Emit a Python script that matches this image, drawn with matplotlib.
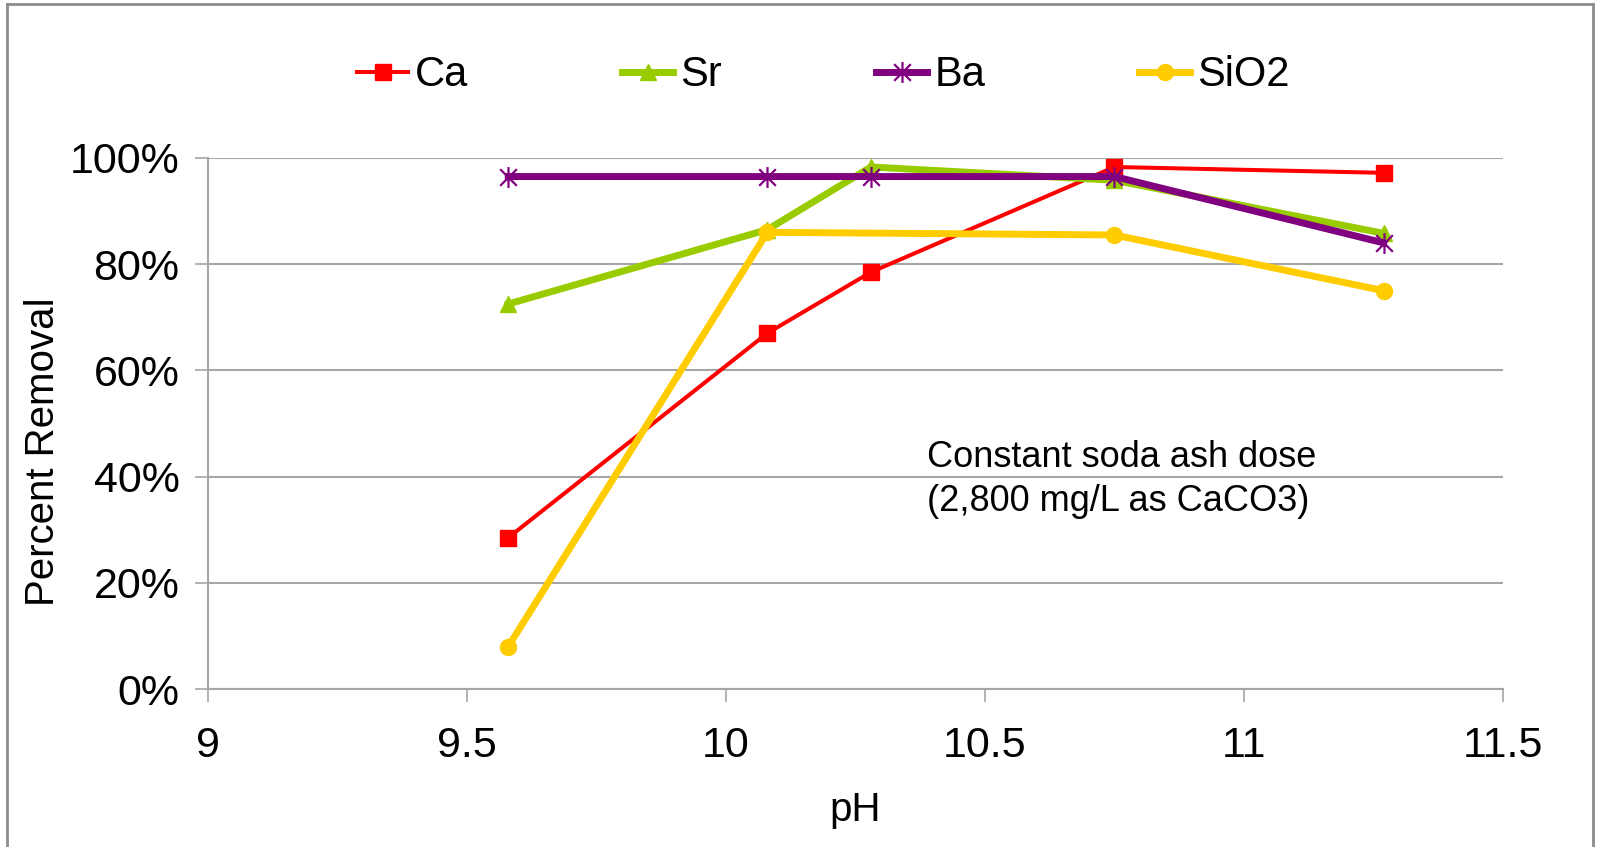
import matplotlib
matplotlib.use("Agg")
import matplotlib.pyplot as plt
from matplotlib.path import Path
from matplotlib.lines import Line2D
from matplotlib.ticker import PercentFormatter

# pH of each test
ph = [9.58, 10.08, 10.28, 10.75, 11.27]
ph_sio2 = [9.58, 10.08, 10.75, 11.27]

# percent removal
ca = [28.5, 67.0, 78.5, 98.3, 97.2]
sr = [72.5, 86.5, 98.3, 95.8, 85.8]
ba = [96.5, 96.5, 96.5, 96.5, 84.0]
sio2 = [8.0, 86.0, 85.5, 75.0]

plt.rcParams["font.family"] = ["Liberation Sans", "DejaVu Sans"]

# asterisk marker: vertical bar plus an x
star = Path([(0, -1), (0, 1), (-0.8, -0.8), (0.8, 0.8), (-0.8, 0.8), (0.8, -0.8)],
            [Path.MOVETO, Path.LINETO, Path.MOVETO, Path.LINETO, Path.MOVETO, Path.LINETO])

fig = plt.figure(figsize=(16.02, 8.47), dpi=100)
ax = fig.add_axes([0.1297, 0.1865, 0.8085, 0.627])

ax.plot(ph, ca, color="#FF0000", lw=2.9, marker="s", ms=11.5, label="Ca")
ax.plot(ph, sr, color="#99CC00", lw=5, marker="^", ms=12, label="Sr")
ax.plot(ph, ba, color="#800080", lw=5, marker=star, ms=15, mew=1.6, label="Ba")
ax.plot(ph_sio2, sio2, color="#FFCC00", lw=5, marker="o", ms=11.5, label="SiO2")

ax.set_xlim(9, 11.5)
ax.set_ylim(0, 100)
ax.set_xticks([9, 9.5, 10, 10.5, 11, 11.5])
ax.set_xticklabels(["9", "9.5", "10", "10.5", "11", "11.5"])
ax.set_yticks([0, 20, 40, 60, 80, 100])
ax.yaxis.set_major_formatter(PercentFormatter(100, decimals=0))

ax.grid(axis="y", color="#A6A6A6", lw=1.5)
ax.set_axisbelow(True)
for s in ["top", "right"]:
    ax.spines[s].set_visible(False)
for s in ["left", "bottom"]:
    ax.spines[s].set_color("#A6A6A6")
    ax.spines[s].set_linewidth(1.5)
ax.tick_params(axis="both", direction="out", length=9.4, width=1.2, color="#A6A6A6",
               labelsize=31)
ax.tick_params(axis="x", pad=17)
ax.tick_params(axis="y", pad=11)

ax.set_xlabel("pH", fontsize=29, va="center")
ax.xaxis.set_label_coords(0.5, -0.228)
ax.set_ylabel("Percent Removal", fontsize=29, va="center")
ax.yaxis.set_label_coords(-0.127, 0.446)

ax.text(0.555, 0.468, "Constant soda ash dose\n(2,800 mg/L as CaCO3)",
        transform=ax.transAxes, fontsize=26, va="top", ha="left", linespacing=1.3)

fig.legend(loc="center", bbox_to_anchor=(0.514, 0.911), ncol=4, frameon=False,
           fontsize=30, handlelength=1.22, handletextpad=0.17, columnspacing=3.7)

# chart border
b = "#8C8C8C"
fig.add_artist(Line2D([7 / 1602, 7 / 1602], [0, 1 - 4 / 847], color=b, lw=2))
fig.add_artist(Line2D([7 / 1602, 1593 / 1602], [1 - 4 / 847, 1 - 4 / 847], color=b, lw=2))
fig.add_artist(Line2D([1593 / 1602, 1593 / 1602], [0, 1 - 4 / 847], color=b, lw=2))

fig.savefig("out.png", dpi=100)
